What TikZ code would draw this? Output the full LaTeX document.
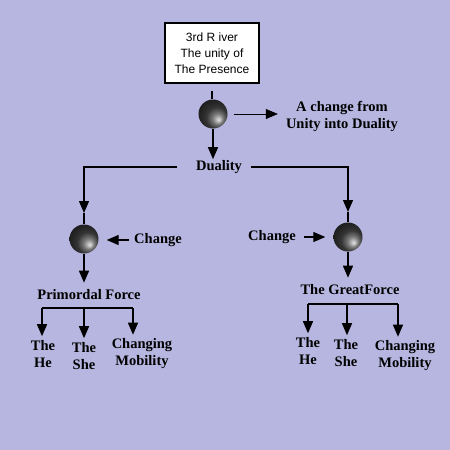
\documentclass[tikz,border=0pt]{standalone}
\usepackage{fontspec}
\setmainfont{Liberation Serif}
\newfontfamily\boxfont{Liberation Sans}
\usetikzlibrary{arrows.meta}
\definecolor{bg}{RGB}{182,182,224}
\begin{document}
\begin{tikzpicture}[x=1pt,y=-1pt,
 lbl/.style={font=\fontsize{14.5}{17}\selectfont\bfseries, align=center, inner sep=1pt},
 arr/.style={-{Triangle[length=12pt,width=10pt]}, line width=1.3pt},
 ln/.style={line width=1.3pt},
 ballnode/.style={circle, minimum size=29pt, inner sep=0pt, ball color=gray!60!black, shading angle=180}]
\fill[bg] (0,0) rectangle (450,450);
\useasboundingbox (0,0) rectangle (450,450);
% top
\node[draw, line width=1.3pt, fill=white, minimum width=94pt, minimum height=60pt, align=center, font=\boxfont\fontsize{12}{16}\selectfont] (box) at (212,53) {3rd R iver\\The unity of\\The Presence};
\node[ballnode] (s1) at (213,114) {};
\draw[ln, shorten <=7pt] (box.south) -- (box.south |- s1.north);
\node[lbl] (chg) at (342,116) {A change from\\Unity into Duality};
\draw[arr, line width=0.6pt, shorten <=6pt, shorten >=7pt] (s1.east) -- (s1.east -| chg.west);
\node[lbl] (dual) at (219,167) {Duality};
\draw[arr] (s1.south) -- (s1.south |- dual.north);
% left branch
\coordinate (t2) at (84,213);
\node[ballnode] (s2) at (84,239) {};
\draw[arr, shorten <=18pt] (dual.west) -| (t2);
\draw[ln] (t2) -- (s2.north);
\node[lbl] (c2) at (158,240) {Change};
\draw[arr, shorten <=4pt, shorten >=8pt] (c2.west) -- (c2.west -| s2.east);
\node[lbl] (pf) at (89,295) {Primordal Force};
\draw[arr, shorten >=6pt] (s2.south) -- (s2.south |- pf.north);
\coordinate (bl2) at (42,308);
\coordinate (bm2) at (84,308);
\coordinate (br2) at (133,308);
\draw[ln] (bl2) -- (br2);
\node[lbl] (he1) at (43,354) {The\\He};
\node[lbl] (she1) at (84,356) {The\\She};
\node[lbl] (cm1) at (142,354) {Changing\\Mobility};
\draw[arr, shorten >=3pt] (bl2) -- (bl2 |- he1.north);
\draw[arr, shorten >=3pt] (bm2) -- (bm2 |- she1.north);
\draw[arr, shorten >=3pt] (br2) -- (br2 |- cm1.north);
% right branch
\coordinate (t3) at (348,212);
\node[ballnode] (s3) at (348,237) {};
\draw[arr, shorten <=8pt] (dual.east) -| (t3);
\draw[ln] (t3) -- (s3.north);
\node[lbl] (c3) at (272,237) {Change};
\draw[arr, shorten <=7pt, shorten >=8pt] (c3.east) -- (c3.east -| s3.west);
\node[lbl] (gf) at (350,290) {The GreatForce};
\draw[arr, shorten >=6pt] (s3.south) -- (s3.south |- gf.north);
\coordinate (bl3) at (308,304);
\coordinate (bm3) at (347,304);
\coordinate (br3) at (398,304);
\draw[ln] (bl3) -- (br3);
\node[lbl] (he2) at (308,351) {The\\He};
\node[lbl] (she2) at (346,353) {The\\She};
\node[lbl] (cm2) at (405,356) {Changing\\Mobility};
\draw[arr, shorten >=3pt] (bl3) -- (bl3 |- he2.north);
\draw[arr, shorten >=3pt] (bm3) -- (bm3 |- she2.north);
\draw[arr, shorten >=3pt] (br3) -- (br3 |- cm2.north);
\end{tikzpicture}
\end{document}
